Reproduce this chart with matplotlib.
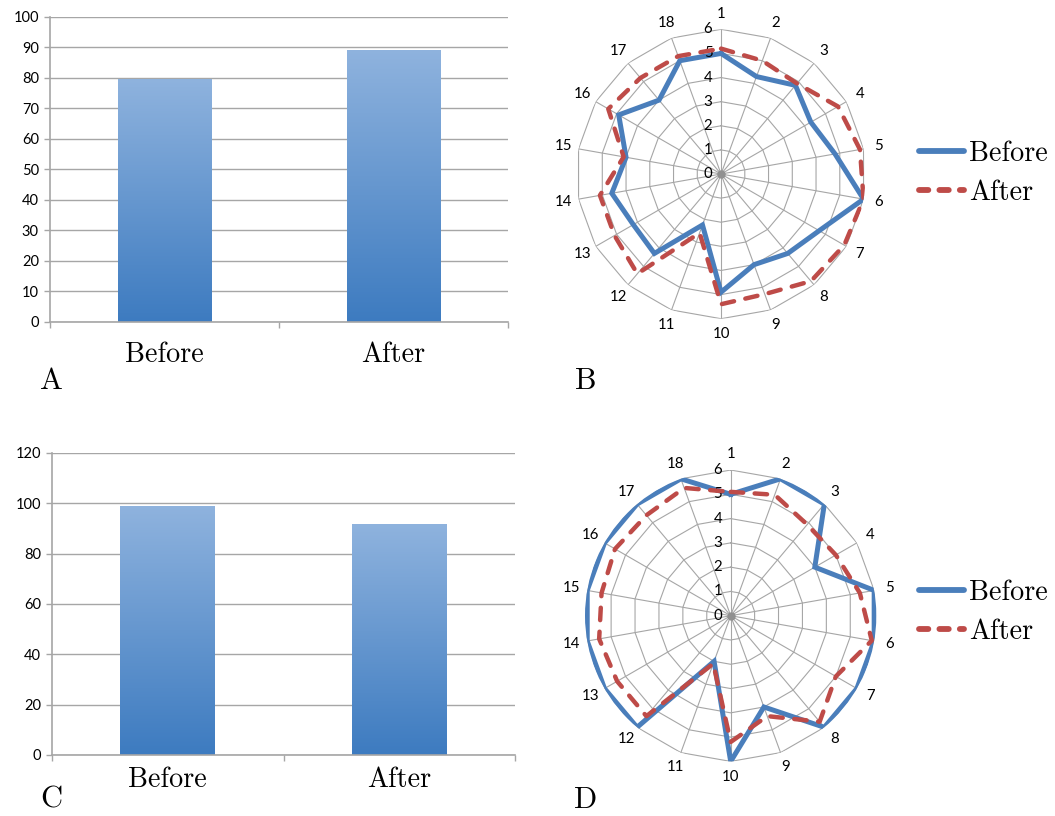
import numpy as np
import matplotlib
matplotlib.use("Agg")
import matplotlib.pyplot as plt
from matplotlib.colors import LinearSegmentedColormap
from matplotlib.lines import Line2D

# bar panels
bar_labels = ["Before", "After"]
bars_a = [79.8, 89.3]
bars_c = [99.0, 91.8]

# radar panels (18 items, scale 0-6)
items = [str(i) for i in range(1, 19)]
b_before = [5.0, 4.3, 4.8, 4.3, 4.8, 6.0, 4.7, 4.3, 4.0, 4.9, 2.25, 4.3, 4.2, 4.6, 4.0, 4.9, 4.0, 5.0]
b_after = [5.2, 5.0, 4.9, 5.6, 5.85, 6.0, 5.9, 5.8, 5.3, 5.4, 2.6, 5.4, 5.1, 5.1, 4.1, 5.4, 5.2, 5.2]
d_before = [5.0, 6.0, 6.0, 4.0, 6.0, 6.0, 6.0, 6.0, 4.0, 6.0, 2.0, 6.0, 6.0, 6.0, 6.0, 6.0, 6.0, 6.0]
d_after = [5.1, 5.3, 4.9, 5.0, 5.4, 5.9, 5.0, 5.7, 4.4, 5.2, 2.1, 5.4, 5.4, 5.5, 5.4, 5.5, 5.4, 5.6]

SERIF = "cmr10"
SANS = "Lato"
BLUE = "#4A7EBB"
RED = "#BE4B48"
GRID = "#A6A6A6"
DASH = (0, (2.8, 2.6))

grad = LinearSegmentedColormap.from_list("excel", ["#3D7BC0", "#8FB3DE"])


def bar_panel(ax, vals, ymax, step, label_off):
    bars = ax.bar(range(len(vals)), vals, width=0.41, facecolor="none", edgecolor="none")
    g = np.linspace(0, 1, 256).reshape(-1, 1)
    for p in bars.patches:
        x0, w, h = p.get_x(), p.get_width(), p.get_height()
        im = ax.imshow(g, extent=[x0, x0 + w, 0, h], origin="lower", aspect="auto",
                       cmap=grad, zorder=2)
        im.set_clip_path(p)
    ax.set_xlim(-0.5, len(vals) - 0.5)
    ax.set_ylim(0, ymax)
    ax.set_yticks(np.arange(0, ymax + 1, step))
    ax.set_xticks([-0.5, 0.5, 1.5])
    ax.set_xticklabels([])
    ax.grid(axis="y", color=GRID, lw=1.0)
    ax.set_axisbelow(True)
    for s in ["top", "right"]:
        ax.spines[s].set_visible(False)
    for s in ["left", "bottom"]:
        ax.spines[s].set_color(GRID)
        ax.spines[s].set_linewidth(1.2)
    ax.tick_params(axis="both", color=GRID, length=4, width=1.0)
    ax.tick_params(axis="y", labelsize=10.5, pad=4)
    for t in ax.get_yticklabels():
        t.set_fontfamily(SANS)
    for i, lab in enumerate(bar_labels):
        ax.annotate(lab, xy=(i, 0), xycoords=("data", "axes fraction"), xytext=(0, -label_off),
                    textcoords="offset pixels", ha="center", va="center",
                    fontsize=20.3, fontfamily=SERIF)


def radar_panel(ax, before, after):
    n = len(items)
    ang = np.linspace(0, 2 * np.pi, n, endpoint=False)
    ax.set_theta_zero_location("N")
    ax.set_theta_direction(-1)
    ax.set_ylim(0, 6)
    ax.grid(False)
    ax.spines["polar"].set_visible(False)
    ax.set_xticks([])
    ax.set_yticks([])
    ax.patch.set_alpha(0)
    closed = np.append(ang, ang[0])
    for r in range(1, 7):
        ax.plot(closed, [r] * (n + 1), color=GRID, lw=0.8, zorder=1)
    for a in ang:
        ax.plot([a, a], [0, 6], color=GRID, lw=0.8, zorder=1)
    ax.plot([0], [0], "o", color="#909090", ms=5, zorder=1)
    ax.plot(closed, np.append(before, before[0]), color=BLUE, lw=3.6, zorder=3,
            solid_joinstyle="miter")
    ax.plot(closed, np.append(after, after[0]), color=RED, lw=3.2, zorder=4,
            linestyle=DASH, dash_capstyle="round")
    for a, lab in zip(ang, items):
        ax.text(a, 6.65, lab, ha="center", va="center", fontsize=10.8, fontfamily=SANS)
    for r in range(0, 7):
        ax.annotate(str(r), xy=(0, r), xytext=(-13, 0), textcoords="offset pixels",
                    ha="center", va="center", fontsize=10.8, fontfamily=SANS)


def legend(fig, y):
    handles = [Line2D([], [], color=BLUE, lw=4.2, solid_capstyle="round"),
               Line2D([], [], color=RED, lw=4.2, linestyle=(0, (1.6, 1.9)),
                      dash_capstyle="round")]
    fig.legend(handles, bar_labels, loc="center left", bbox_to_anchor=(0.847, y),
               frameon=False, handlelength=1.6, handletextpad=0.18, labelspacing=0.44,
               prop={"family": SERIF, "size": 20.3})


fig = plt.figure(figsize=(10.55, 8.16), dpi=100)

ax_a = fig.add_axes([0.0474, 0.6054, 0.4341, 0.3738])
bar_panel(ax_a, bars_a, 100, 10, 33)
ax_c = fig.add_axes([0.0493, 0.0748, 0.4389, 0.3701])
bar_panel(ax_c, bars_c, 120, 20, 25)

ax_b = fig.add_axes([0.5463, 0.6094, 0.2743, 0.3547], projection="polar")
radar_panel(ax_b, b_before, b_after)
ax_d = fig.add_axes([0.5545, 0.0669, 0.2762, 0.3571], projection="polar")
radar_panel(ax_d, d_before, d_after)

legend(fig, 1 - 173 / 816)
legend(fig, 1 - 612 / 816)

for lab, x, y in [("A", 51, 381), ("B", 586, 381), ("C", 51, 800), ("D", 586, 800)]:
    fig.text(x / 1055, 1 - y / 816, lab, ha="center", va="center", fontsize=22, fontfamily=SERIF)

fig.savefig("out.png", dpi=100)
